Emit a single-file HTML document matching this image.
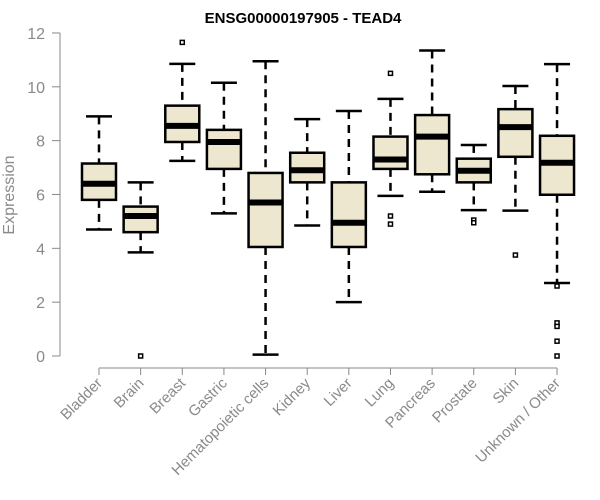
<!DOCTYPE html>
<html><head><meta charset="utf-8"><style>
body{margin:0;background:#fff;}
svg{display:block;font-family:"Liberation Sans",Arial,sans-serif;}
</style></head><body>
<svg id="chart" width="600" height="500"></svg>
<script>
const categories=["Bladder","Brain","Breast","Gastric","Hematopoietic cells","Kidney","Liver","Lung","Pancreas","Prostate","Skin","Unknown / Other"];
const lowWhisker=[4.7,3.85,7.25,5.3,0.05,4.85,2.0,5.95,6.1,5.42,5.4,2.71];
const q1=[5.8,4.6,7.95,6.95,4.05,6.45,4.05,6.95,6.75,6.45,7.4,5.99];
const medians=[6.4,5.2,8.55,7.95,5.7,6.9,4.95,7.3,8.15,6.88,8.5,7.18];
const q3=[7.15,5.55,9.3,8.4,6.8,7.55,6.45,8.15,8.95,7.33,9.17,8.18];
const highWhisker=[8.9,6.45,10.85,10.15,10.95,8.8,9.1,9.55,11.35,7.84,10.03,10.84];
const outliers=[[],[0],[11.65],[],[],[],[],[10.5,5.2,4.9],[],[5.05,4.95],[3.75],[2.6,1.23,1.1,0.55,0]];
const yTicks=[0,2,4,6,8,10,12];

const NS="http://www.w3.org/2000/svg";
const svg=document.getElementById('chart');
function y(v){return 356-v*26.92;}
function x(i){return 99+i*41.64;}
function el(tag,attrs,parent){const e=document.createElementNS(NS,tag);for(const k in attrs)e.setAttribute(k,attrs[k]);(parent||svg).appendChild(e);return e;}

const title=el('text',{x:303,y:23,'text-anchor':'middle','font-size':15,'font-weight':'bold',fill:'#000'});
title.textContent="ENSG00000197905 - TEAD4";



const yAxis=el('g',{});


el('line',{x1:60,x2:60,y1:y(0),y2:y(12),stroke:'#888','stroke-width':1},yAxis);
yTicks.forEach(t=>{
  el('line',{x1:52,x2:60,y1:y(t),y2:y(t),stroke:'#888'},yAxis);
  const tx=el('text',{x:45,y:y(t)+6,'text-anchor':'end','font-size':16,fill:'#8a8a8a'},yAxis);
  tx.textContent=t;
  
  
});
const yt=el('text',{x:14,y:195,'text-anchor':'middle','font-size':16,fill:'#8a8a8a',transform:'rotate(-90 14 195)'});
yt.textContent="Expression";



const xAxis=el('g',{});


el('line',{x1:x(0),x2:x(categories.length-1),y1:368,y2:368,stroke:'#888'},xAxis);
categories.forEach((c,i)=>{
  el('line',{x1:x(i),x2:x(i),y1:368,y2:375,stroke:'#888'},xAxis);
  const tx=el('text',{x:x(i)+4,y:384,'text-anchor':'end','font-size':15,fill:'#8a8a8a',transform:`rotate(-45 ${x(i)+4} 384)`},xAxis);
  tx.textContent=c;
  
  
});

categories.forEach((c,i)=>{
  const g=el('g',{});
  
  
  const cx=x(i),w=17,cap=13;
  el('line',{x1:cx,x2:cx,y1:y(highWhisker[i]),y2:y(q3[i]),stroke:'#000','stroke-width':2.5,'stroke-dasharray':'8,6'},g);
  el('line',{x1:cx,x2:cx,y1:y(q1[i]),y2:y(lowWhisker[i]),stroke:'#000','stroke-width':2.5,'stroke-dasharray':'8,6'},g);
  el('line',{x1:cx-cap,x2:cx+cap,y1:y(highWhisker[i]),y2:y(highWhisker[i]),stroke:'#000','stroke-width':2.5},g);
  el('line',{x1:cx-cap,x2:cx+cap,y1:y(lowWhisker[i]),y2:y(lowWhisker[i]),stroke:'#000','stroke-width':2.5},g);
  el('rect',{x:cx-w,y:y(q3[i]),width:2*w,height:y(q1[i])-y(q3[i]),fill:'#ede7cf',stroke:'#000','stroke-width':2.5},g);
  el('line',{x1:cx-w,x2:cx+w,y1:y(medians[i]),y2:y(medians[i]),stroke:'#000','stroke-width':6},g);
  outliers[i].forEach(o=>{
    const p=el('rect',{x:cx-2,y:y(o)-2,width:4,height:4,fill:'#fff',stroke:'#000','stroke-width':1.5},g);
    
    
  });
});
</script>
</body></html>
